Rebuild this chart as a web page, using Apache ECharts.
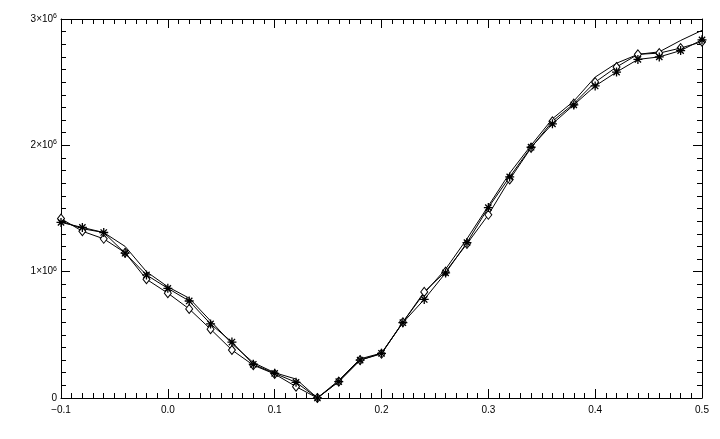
<!DOCTYPE html>
<html>
<head>
<meta charset="utf-8">
<script src="https://cdn.jsdelivr.net/npm/echarts@6/dist/echarts.min.js"></script>
<style>
html,body{margin:0;padding:0;background:#fff;}
#chart{width:720px;height:439px;}
</style>
</head>
<body>
<div id="chart"></div>
<script>
var xValues = [-0.1,-0.08,-0.06,-0.04,-0.02,0,0.02,0.04,0.06,0.08,0.1,0.12,0.14,0.16,0.18,0.2,0.22,0.24,0.26,0.28,0.3,0.32,0.34,0.36,0.38,0.4,0.42,0.44,0.46,0.48,0.5];
var plainValues = [1.40e6,1.34e6,1.31e6,1.20e6,1.00e6,0.88e6,0.79e6,0.61e6,0.43e6,0.28e6,0.20e6,0.15e6,0,0.14e6,0.31e6,0.355e6,0.60e6,0.83e6,1.02e6,1.26e6,1.52e6,1.78e6,2.00e6,2.21e6,2.35e6,2.54e6,2.65e6,2.72e6,2.74e6,2.83e6,2.91e6];
var diamondValues = [1.42e6,1.32e6,1.26e6,1.15e6,0.94e6,0.83e6,0.705e6,0.545e6,0.38e6,0.26e6,0.19e6,0.09e6,0,0.13e6,0.30e6,0.35e6,0.60e6,0.84e6,1.00e6,1.22e6,1.45e6,1.73e6,1.98e6,2.19e6,2.33e6,2.50e6,2.62e6,2.72e6,2.73e6,2.77e6,2.82e6];
var asteriskValues = [1.39e6,1.35e6,1.31e6,1.146e6,0.974e6,0.868e6,0.768e6,0.586e6,0.443e6,0.267e6,0.195e6,0.124e6,0,0.13e6,0.30e6,0.354e6,0.596e6,0.78e6,0.99e6,1.23e6,1.507e6,1.75e6,1.985e6,2.17e6,2.32e6,2.47e6,2.58e6,2.68e6,2.70e6,2.75e6,2.835e6];
var yTickLabels = {0:'0',1000000:'1',2000000:'2',3000000:'3'};

function pairs(vals){ return xValues.map(function(x,i){ return [x, vals[i]]; }); }

var asteriskPath = 'path://M-1,0L1,0M0,-1L0,1M-0.7,-0.7L0.7,0.7M-0.7,0.7L0.7,-0.7';
var font = 'Liberation Sans';
var axisCommon = {
  axisLine:{show:true,onZero:false,lineStyle:{color:'#000',width:1}},
  axisTick:{show:true,inside:true,length:9,lineStyle:{color:'#000',width:1}},
  minorTick:{show:true,splitNumber:10,length:5,lineStyle:{color:'#000',width:1}},
  splitLine:{show:false},
  minorSplitLine:{show:false}
};
function ax(extra){ return Object.assign({}, JSON.parse(JSON.stringify(axisCommon)), extra); }

var chart = echarts.init(document.getElementById('chart'), null, {renderer:'canvas'});
chart.setOption({
  backgroundColor:'#fff',
  animation:false,
  grid:{left:61,right:18,top:19,bottom:41,containLabel:false},
  xAxis:[
    ax({type:'value',min:-0.1,max:0.5,interval:0.1,position:'bottom',
      axisLabel:{show:true,margin:7,color:'#000',fontFamily:font,fontSize:10,
        formatter:function(v){ return (Math.round(v*10)/10).toFixed(1).replace('-','\u2212'); }}}),
    ax({type:'value',min:-0.1,max:0.5,interval:0.1,position:'top',axisLabel:{show:false}})
  ],
  yAxis:[
    ax({type:'value',min:0,max:3e6,interval:1e6,position:'left',
      axisLabel:{show:true,margin:4,color:'#000',fontFamily:font,fontSize:10,
        formatter:function(v){ var k=Math.round(v); var t=yTickLabels[k]; if(k===0) return '0'; return '{b|'+t+'\u00d710}{s|6}'; },
        rich:{b:{fontFamily:font,fontSize:10,color:'#000'},s:{fontFamily:font,fontSize:7,color:'#000',verticalAlign:'top',padding:[0,0,6,0]}}}}),
    ax({type:'value',min:0,max:3e6,interval:1e6,position:'right',axisLabel:{show:false}})
  ],
  series:[
    {type:'line',data:pairs(plainValues),showSymbol:false,symbol:'none',lineStyle:{color:'#000',width:1},xAxisIndex:0,yAxisIndex:0},
    {type:'line',data:pairs(diamondValues),symbol:'diamond',symbolSize:[7,9],itemStyle:{color:'#fff',borderColor:'#000',borderWidth:1},lineStyle:{color:'#000',width:1},xAxisIndex:0,yAxisIndex:0},
    {type:'line',data:pairs(asteriskValues),symbol:asteriskPath,symbolSize:9,itemStyle:{color:'#000',borderColor:'#000',borderWidth:1.3},lineStyle:{color:'#000',width:1},xAxisIndex:0,yAxisIndex:0}
  ]
});
</script>
</body>
</html>
